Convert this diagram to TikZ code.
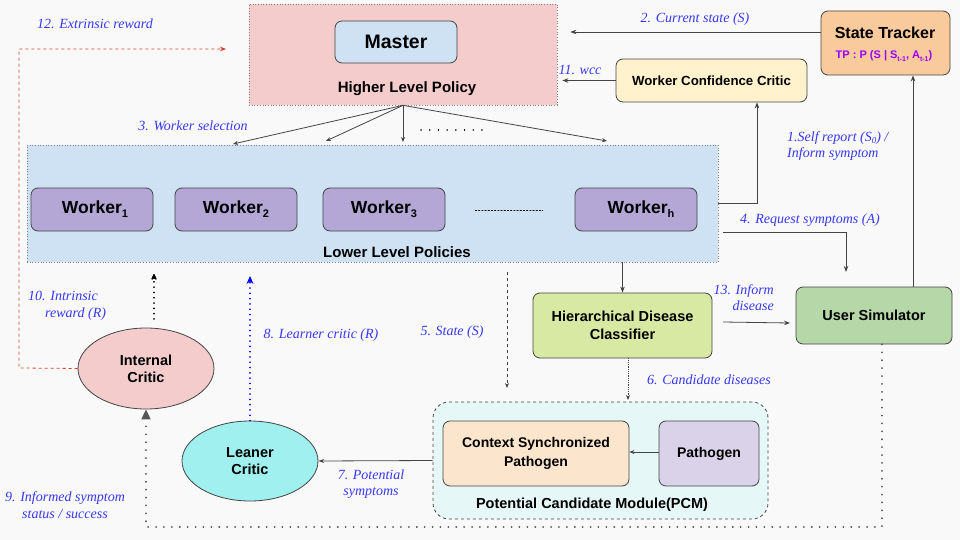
\documentclass[tikz,border=0pt]{standalone}
\usepackage{fontspec}
\setmainfont{Liberation Sans}
\newfontfamily\lblfont{Liberation Serif}
\usetikzlibrary{arrows.meta,shapes.geometric,calc}
\definecolor{bgc}{RGB}{249,249,250}
\definecolor{pinkc}{RGB}{244,204,204}
\definecolor{bluec}{RGB}{207,226,243}
\definecolor{workc}{RGB}{180,167,214}
\definecolor{orangec}{RGB}{249,203,156}
\definecolor{yellowc}{RGB}{255,242,204}
\definecolor{greenc}{RGB}{182,215,168}
\definecolor{limec}{RGB}{216,233,164}
\definecolor{cyanbg}{RGB}{230,247,247}
\definecolor{peachc}{RGB}{252,229,205}
\definecolor{lavc}{RGB}{217,210,233}
\definecolor{aquac}{RGB}{160,240,240}
\definecolor{linec}{RGB}{68,68,68}
\definecolor{lblc}{RGB}{55,55,245}
\definecolor{tpc}{RGB}{153,0,255}
\definecolor{redc}{RGB}{204,65,37}
\definecolor{dotc}{RGB}{85,85,85}
\tikzset{
  rbox/.style={draw=linec, line width=0.8pt, rounded corners=7pt, inner sep=0pt, align=center, font=\bfseries},
  region/.style={draw=gray, dotted, line width=0.7pt, inner sep=0pt},
  ell/.style={ellipse, draw=linec, line width=0.8pt, inner sep=0pt, align=center, font=\fontsize{14.5}{17}\selectfont\bfseries},
  arr/.style={draw=linec, line width=0.8pt, -{Stealth[length=6pt,width=4.5pt]}},
  lbl/.style={text=lblc, font=\lblfont\itshape\fontsize{14}{16.5}\selectfont, inner sep=0pt},
  boldlbl/.style={font=\bfseries, inner sep=0pt}
}
\begin{document}
\begin{tikzpicture}[x=1pt,y=-1pt]
\useasboundingbox[fill=bgc] (0,0) rectangle (960,540);

% regions
\node[region, fill=pinkc, minimum width=308pt, minimum height=101pt] (hlp) at (403,54.5) {};
\node[boldlbl, font=\fontsize{15}{18}\selectfont\bfseries] (hlplbl) at (407,89) {Higher Level Policy};
\node[rbox, fill=bluec, minimum width=122pt, minimum height=42pt, font=\fontsize{19.5}{22}\selectfont\bfseries] (master) at (396,42) {Master};

\node[region, fill=bluec, minimum width=691pt, minimum height=117pt] (llp) at (372.5,203.5) {};
\node[boldlbl, font=\fontsize{15}{18}\selectfont\bfseries] (llplbl) at (397,252) {Lower Level Policies};

\tikzset{wk/.style={rbox, fill=workc, minimum width=122pt, minimum height=43pt, font=\fontsize{17.5}{20}\selectfont\bfseries}}
\node[wk] (w1) at (92,209.5) {\hspace*{6pt}Worker\raisebox{-4pt}{\fontsize{11}{12}\selectfont 1}};
\node[wk] (w2) at (236,209.5) {Worker\raisebox{-4pt}{\fontsize{11}{12}\selectfont 2}};
\node[wk] (w3) at (384,209.5) {Worker\raisebox{-4pt}{\fontsize{11}{12}\selectfont 3}};
\node[wk] (wh) at (636,209.5) {\hspace*{10pt}Worker\raisebox{-4pt}{\fontsize{11}{12}\selectfont h}};
\draw[line width=1.1pt, dash pattern=on 1.1pt off 2.1pt, line cap=round] (w3.east) ++(30,1) coordinate (d1) -- ($(wh.west)+(-32,1)$) coordinate (d2);

% right top
\node[rbox, fill=orangec, minimum width=129pt, minimum height=64pt] (st) at (885.5,43) {};
\node[boldlbl, font=\fontsize{16}{19}\selectfont\bfseries] (stlbl) at (885,33) {State Tracker};
\node[boldlbl, text=tpc, font=\fontsize{11}{13}\selectfont\bfseries] (tp) at (884,56) {TP : P (S | S\raisebox{-2.5pt}{\fontsize{7}{8}\selectfont t-1}, A\raisebox{-2.5pt}{\fontsize{7}{8}\selectfont t-1})};
\node[rbox, fill=yellowc, minimum width=191pt, minimum height=43pt, font=\fontsize{13.25}{16}\selectfont\bfseries] (wcc) at (711.5,80.5) {Worker Confidence Critic};

% middle
\node[rbox, fill=greenc, minimum width=156pt, minimum height=57pt, font=\fontsize{14.5}{17}\selectfont\bfseries] (us) at (874,315.5) {User Simulator};
\node[rbox, fill=limec, minimum width=179pt, minimum height=65pt, font=\fontsize{14.5}{17.5}\selectfont\bfseries] (hdc) at (622.5,325.5) {Hierarchical Disease\\Classifier};

% PCM
\node[draw=linec, dashed, line width=0.8pt, rounded corners=16pt, fill=cyanbg, minimum width=335pt, minimum height=117pt, inner sep=0pt] (pcm) at (600.5,460.5) {};
\node[boldlbl, font=\fontsize{14.5}{17}\selectfont\bfseries] (pcmlbl) at (592,505) {Potential Candidate Module(PCM)};
\node[rbox, fill=peachc, minimum width=186pt, minimum height=65pt, font=\fontsize{14}{18.5}\selectfont\bfseries] (csp) at (536,453.5) {Context Synchronized\\Pathogen};
\node[rbox, fill=lavc, minimum width=100pt, minimum height=65pt, font=\fontsize{14}{17}\selectfont\bfseries] (path) at (709,453.5) {Pathogen};

% critics
\node[ell, fill=pinkc, minimum width=136pt, minimum height=81pt] (ic) at (146,368.5) {Internal\\Critic};
\node[ell, fill=aquac, minimum width=136pt, minimum height=80pt] (lc) at (250,461) {Leaner\\Critic};

% master fan-out
\coordinate (hs) at (hlp.south);
\coordinate (t1) at (233,144);
\coordinate (t2) at (326,141);
\coordinate (t3) at (403,142);
\coordinate (t4) at (607,141);
\draw[arr, -{Stealth[length=5pt,width=4pt]}] (hs) -- (t1);
\draw[arr, -{Stealth[length=5pt,width=4pt]}] (hs) -- (t2);
\draw[arr, -{Stealth[length=5pt,width=4pt]}] (hs) -- (t3);
\draw[arr, -{Stealth[length=5pt,width=4pt]}] (hs) -- (t4);
\draw[line width=1.4pt, dash pattern=on 0.1pt off 8.6pt, line cap=round] (421,130) coordinate (e1) -- (490,130) coordinate (e2);
\node[lbl] (l3) at (193,126) {3. Worker selection};

% state tracker -> HLP
\coordinate (cs) at ($(hlp.east)+(13,-22.5)$);
\draw[arr] (st.west |- cs) -- (cs);
\node[lbl] (l2) at (695,19) {2. Current state (S)};
\coordinate (wc) at ($(hlp.east)+(5,0)$);
\draw[arr] (wcc.west) -- (wcc.west -| wc);
\node[lbl] (l11) at (580,70) {11. \textit{wcc}};

% self report
\coordinate (sr) at ($(wcc.south)+(45.5,0)$);
\draw[arr] (llp.east) -| (sr);
\node[lbl, align=left, anchor=north west] (l1) at (787,131) {1.Self report (S\raisebox{-2pt}{\fontsize{9}{10}\selectfont 0}) /\\Inform symptom};

% request symptoms
\coordinate (rq1) at (723,232);
\coordinate (rq2) at (846,272);
\draw[arr] (rq1) -| (rq2);
\node[lbl] (l4) at (810,220) {4. Request symptoms (A)};

% us -> state tracker
\draw[arr] (us.north -| 913,0) -- (st.south -| 913,0);

% llp -> hdc
\draw[arr] (hdc.north |- llp.south) -- (hdc.north);

% inform disease
\coordinate (id1) at (723,322);
\coordinate (id2) at (790,323);
\draw[arr] (id1) -- (id2);
\node[lbl, align=right, anchor=north east] (l13) at (774,284) {13. Inform\\disease};

% state (S)
\coordinate (s1) at (507,272);
\coordinate (s2) at (507,388);
\draw[arr, dashed, -{Stealth[length=5pt,width=4pt]}] (s1) -- (s2);
\node[lbl] (l5) at (452,332) {5. State (S)};

% candidate diseases
\coordinate (cd2) at (628,400);
\draw[arr, densely dotted, -{Stealth[length=5pt,width=4pt]}] (hdc.south -| cd2) -- (cd2);
\node[lbl] (l6) at (709,380) {6. Candidate diseases};

% pathogen -> csp
\draw[arr, -{Stealth[length=5pt,width=4pt]}] (path.west |- 0,452) -- (csp.east |- 0,452);

% pcm -> leaner critic
\draw[arr, -{Stealth[length=6pt,width=4pt]}] (pcm.west) -- (lc.east);
\node[lbl, align=center] (l7) at (371,484) {7. Potential\\symptoms};

% learner critic -> llp
\coordinate (lcup) at (250,276);
\draw[draw=blue, line width=1.7pt, dash pattern=on 0.1pt off 5.2pt, line cap=round, -{Stealth[length=8pt,width=7pt]}] (lc.north) -- (lcup);
\node[lbl] (l8) at (321,335) {8. Learner critic (R)};

% internal critic -> llp
\coordinate (icup) at (154,274);
\draw[draw=black, line width=1.7pt, dash pattern=on 0.1pt off 5.2pt, line cap=round, -{Stealth[length=8pt,width=7pt,open,round]}] (154,319) coordinate (icst) -- (icup);
\node[lbl, align=left, anchor=north west] (l10) at (28,291) {10. Intrinsic\\\hspace*{17pt}reward (R)};

% extrinsic reward
\coordinate (ex1) at (19,368);
\coordinate (ex2) at (226,49);
\draw[draw=redc, dashed, line width=0.8pt, -{Stealth[length=6pt,width=4.5pt]}] (ic.west) -- (ex1) |- (ex2);
\node[lbl] (l12) at (95,24) {12. Extrinsic reward};

% informed symptom status
\coordinate (b1) at (882,527);
\coordinate (b2) at (146,527);
\draw[draw=dotc, line width=1.9pt, dash pattern=on 0.1pt off 7.8pt, line cap=round, -{Triangle[length=10pt,width=9pt]}] (us.south -| b1) -- (b1) -- (b2) -- (ic.south);
\node[lbl, align=center] (l9) at (65,505) {9. Informed symptom\\status / success};
\end{tikzpicture}
\end{document}
